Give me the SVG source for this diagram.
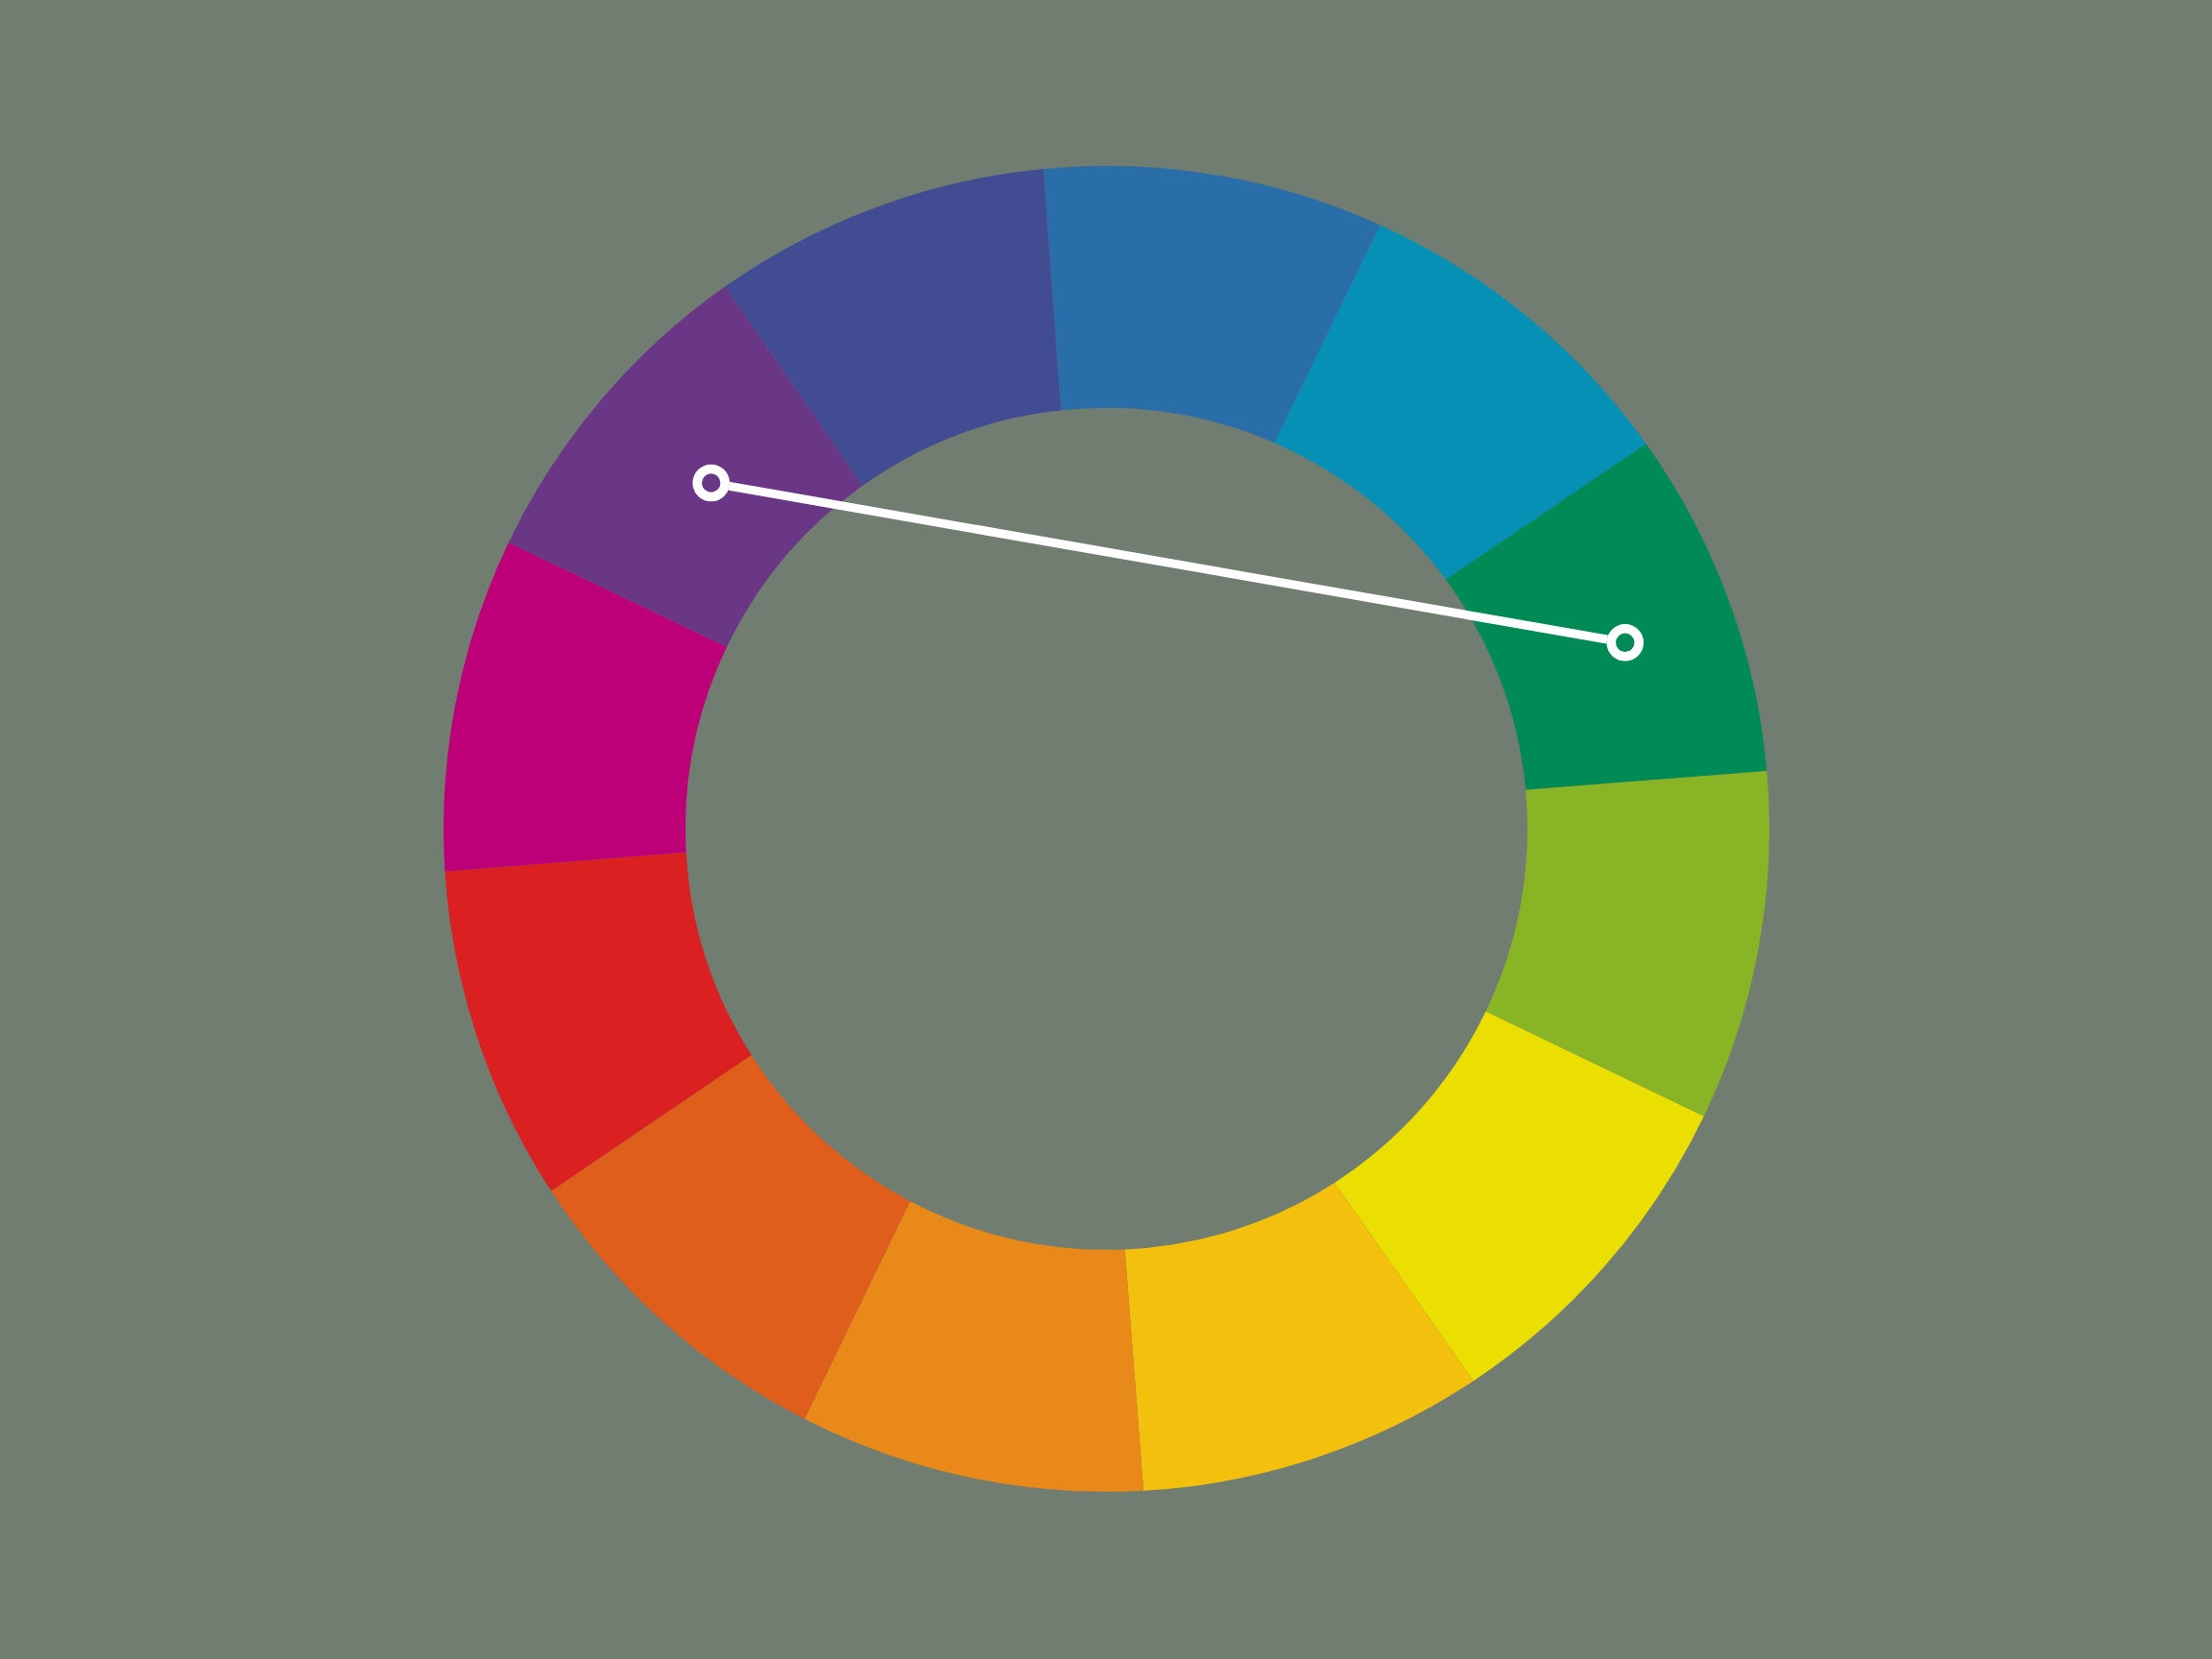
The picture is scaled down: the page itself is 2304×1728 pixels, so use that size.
<svg xmlns="http://www.w3.org/2000/svg" width="2304" height="1728" viewBox="0 0 2304 1728">
  <style>
    .seg { stroke: none; }
    .ring { fill: none; stroke: #FFFFFF; stroke-width: 9.6; }
    .link { stroke: #FFFFFF; stroke-width: 9; fill: none; }
  </style>
  <rect x="0" y="0" width="2304" height="1728" fill="#717D70"/>
  <g id="wheel">
    <path id="seg-blue" class="seg" fill="#2A6EA9" d="M1086.67,175.94 A690.5,690.5 0 0 1 1437.75,234.48 L1327.35,461.17 A438.5,438.5 0 0 0 1105.14,427.37 Z"/>
    <path id="seg-teal" class="seg" fill="#0790B5" d="M1437.75,234.48 A690.5,690.5 0 0 1 1714.65,462.33 L1505.90,603.70 A438.5,438.5 0 0 0 1327.35,461.17 Z"/>
    <path id="seg-green" class="seg" fill="#008A56" d="M1714.65,462.33 A690.5,690.5 0 0 1 1840.37,803.12 L1589.12,822.80 A438.5,438.5 0 0 0 1505.90,603.70 Z"/>
    <path id="seg-yellowgreen" class="seg" fill="#89B426" d="M1840.37,803.12 A690.5,690.5 0 0 1 1774.70,1162.74 L1547.62,1053.46 A438.5,438.5 0 0 0 1589.12,822.80 Z"/>
    <path id="seg-yellow" class="seg" fill="#EADF00" d="M1774.70,1162.74 A690.5,690.5 0 0 1 1534.62,1438.43 L1390.04,1231.89 A438.5,438.5 0 0 0 1547.62,1053.46 Z"/>
    <path id="seg-gold" class="seg" fill="#F3C00D" d="M1534.62,1438.43 A690.5,690.5 0 0 1 1191.04,1552.72 L1171.63,1301.38 A438.5,438.5 0 0 0 1390.04,1231.89 Z"/>
    <path id="seg-orange" class="seg" fill="#E88919" d="M1191.04,1552.72 A690.5,690.5 0 0 1 837.95,1477.99 L947.99,1251.19 A438.5,438.5 0 0 0 1171.63,1301.38 Z"/>
    <path id="seg-orangered" class="seg" fill="#E05E1C" d="M837.95,1477.99 A690.5,690.5 0 0 1 574.05,1240.38 L782.67,1098.91 A438.5,438.5 0 0 0 947.99,1251.19 Z"/>
    <path id="seg-red" class="seg" fill="#DA2020" d="M574.05,1240.38 A690.5,690.5 0 0 1 463.44,907.86 L714.68,887.78 A438.5,438.5 0 0 0 782.67,1098.91 Z"/>
    <path id="seg-magenta" class="seg" fill="#BD0077" d="M463.44,907.86 A690.5,690.5 0 0 1 529.79,564.94 L757.05,673.83 A438.5,438.5 0 0 0 714.68,887.78 Z"/>
    <path id="seg-purple" class="seg" fill="#6A3787" d="M529.79,564.94 A690.5,690.5 0 0 1 755.46,298.37 L898.49,505.87 A438.5,438.5 0 0 0 757.05,673.83 Z"/>
    <path id="seg-indigo" class="seg" fill="#424C92" d="M755.46,298.37 A690.5,690.5 0 0 1 1086.67,175.94 L1105.14,427.37 A438.5,438.5 0 0 0 898.49,505.87 Z"/>
  </g>
  <g id="connectors">
    <line class="link" x1="759.4" y1="506.3" x2="1674.0" y2="666.0"/>
  </g>
  <g id="marker-start">
    <circle class="ring" cx="740.7" cy="503.0" r="14.5"/>
  </g>
  <g id="marker-end">
    <circle class="ring" cx="1692.7" cy="669.3" r="14.5"/>
  </g>
</svg>
